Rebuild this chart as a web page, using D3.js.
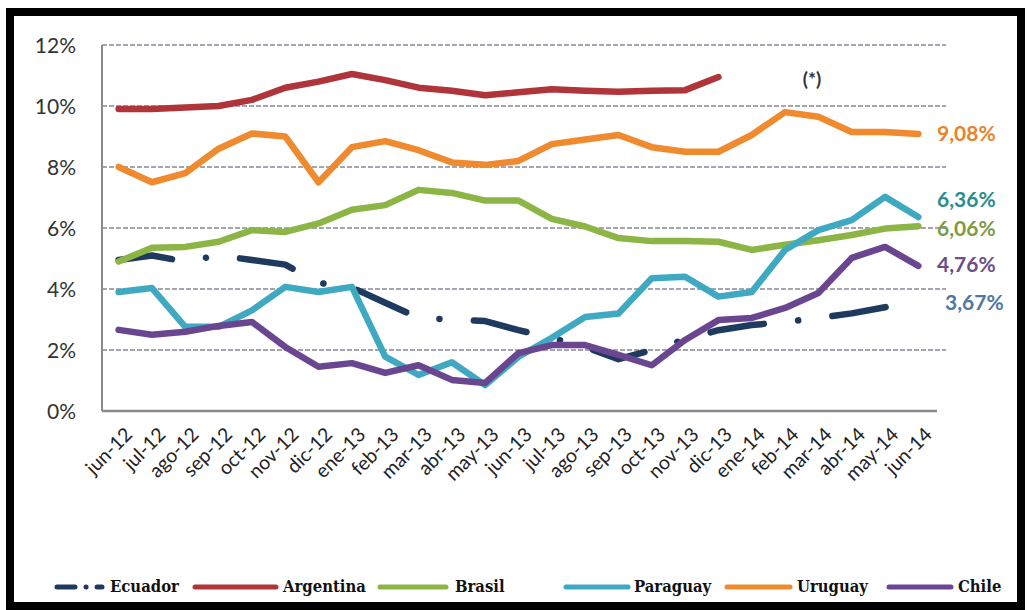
<!DOCTYPE html>
<html>
<head>
<meta charset="utf-8">
<script src="https://cdn.jsdelivr.net/npm/d3@7"></script>
<style>
  html, body { margin: 0; padding: 0; background: #fff; }
  svg { display: block; }
</style>
</head>
<body>
<svg id="chart" width="1027" height="610"></svg>
<script>
// Monthly series, jun-12 .. jun-14 (percent)
const months = ["jun-12","jul-12","ago-12","sep-12","oct-12","nov-12","dic-12","ene-13","feb-13","mar-13","abr-13","may-13","jun-13","jul-13","ago-13","sep-13","oct-13","nov-13","dic-13","ene-14","feb-14","mar-14","abr-14","may-14","jun-14"];
const ecuador   = [4.95,5.1,4.9,5.1,4.95,4.8,4.2,4.05,3.55,3.05,3.0,2.95,2.65,2.4,2.1,1.7,2.0,2.35,2.65,2.82,2.92,3.05,3.2,3.4,3.67];
const argentina = [9.9,9.9,9.95,10.0,10.2,10.6,10.8,11.05,10.85,10.6,10.5,10.35,10.45,10.55,10.5,10.47,10.5,10.52,10.95,null,null,null,null,null,null];
const brasil    = [4.9,5.35,5.38,5.55,5.93,5.87,6.15,6.6,6.75,7.25,7.15,6.9,6.9,6.3,6.05,5.67,5.57,5.57,5.55,5.28,5.45,5.6,5.77,5.98,6.06];
const paraguay  = [3.9,4.03,2.76,2.76,3.3,4.07,3.9,4.07,1.78,1.18,1.6,0.85,1.78,2.4,3.08,3.2,4.35,4.4,3.75,3.9,5.28,5.93,6.26,7.02,6.36];
const uruguay   = [8.0,7.5,7.8,8.6,9.1,9.0,7.5,8.65,8.85,8.55,8.15,8.07,8.2,8.75,8.9,9.05,8.65,8.5,8.5,9.05,9.8,9.65,9.15,9.15,9.08];
const chile     = [2.66,2.5,2.6,2.79,2.92,2.1,1.45,1.57,1.25,1.5,1.02,0.92,1.9,2.16,2.16,1.84,1.5,2.33,2.98,3.05,3.38,3.87,5.02,5.38,4.76];
const yTicks = [0,2,4,6,8,10,12];

const seriesNames = ["Ecuador","Argentina","Brasil","Paraguay","Uruguay","Chile"];
const seriesValues = [ecuador, argentina, brasil, paraguay, uruguay, chile];
const seriesColors = ["#1f3a5f","#b0353a","#8cb545","#3fa9c2","#ef8a2e","#6a4690"];
// end-of-line value labels
const endLabelSeries = ["Uruguay","Paraguay","Brasil","Chile","Ecuador"];
const endLabelColors = ["#e8832c","#2b8c8c","#7f9a45","#6b5088","#4f77a6"];

const svg = d3.select("#chart");
const W = 1027, H = 610;
const plot = { left: 102, right: 935, top: 45, bottom: 411 };

const x = d3.scaleBand().domain(months).range([plot.left, plot.right]);
const xc = m => x(m) + x.bandwidth() / 2;
const y = d3.scaleLinear().domain([0, 12]).range([plot.bottom, plot.top]);

// outer frame
svg.append("rect").attr("x", 10).attr("y", 12).attr("width", W - 16).attr("height", H - 16)
  .attr("fill", "none").attr("stroke", "#000").attr("stroke-width", 8);

// gridlines
svg.append("g").selectAll("line").data(yTicks.filter(t => t > 0)).join("line")
  .attr("x1", plot.left).attr("x2", 946)
  .attr("y1", d => y(d)).attr("y2", d => y(d))
  .attr("stroke", "#a3a6b0").attr("stroke-width", 2).attr("stroke-dasharray", "5,2");

// y axis
const yAxis = d3.axisLeft(y).tickValues(yTicks).tickFormat(d => d + "%").tickSize(0).tickPadding(26);
const gy = svg.append("g").attr("transform", `translate(${plot.left},0)`).call(yAxis);
gy.select(".domain").remove();
gy.selectAll("text").attr("font-family", "Lato, 'Open Sans', sans-serif").attr("font-size", 21)
  .attr("fill", "#333").attr("dy", "0.35em");
svg.append("line").attr("x1", plot.left).attr("x2", plot.left).attr("y1", plot.top).attr("y2", plot.bottom)
  .attr("stroke", "#8a8a8a").attr("stroke-width", 2);

// x axis
const xAxis = d3.axisBottom(x).tickSize(0).tickPadding(0);
const gx = svg.append("g").attr("transform", `translate(0,${plot.bottom})`).call(xAxis);
gx.select(".domain").remove();
gx.selectAll("text")
  .attr("font-family", "Lato, 'Open Sans', sans-serif").attr("font-size", 19.5).attr("fill", "#222")
  .attr("text-anchor", "end").attr("dy", "0.35em")
  .attr("transform", "translate(10,20) rotate(-45)");
svg.append("line").attr("x1", plot.left).attr("x2", 937).attr("y1", plot.bottom).attr("y2", plot.bottom)
  .attr("stroke", "#8a8a8a").attr("stroke-width", 2.5);

// series lines
const line = d3.line()
  .defined(d => d.v != null)
  .x(d => xc(d.m)).y(d => y(d.v));

seriesNames.forEach((name, i) => {
  const pts = months.map((m, j) => ({ m, v: seriesValues[i][j] }));
  const p = svg.append("path").datum(pts)
    .attr("d", line).attr("fill", "none")
    .attr("stroke", seriesColors[i]).attr("stroke-width", 6.5)
    .attr("stroke-linejoin", "round").attr("stroke-linecap", "round");
  if (name === "Ecuador") {
    // long-dash-dot pattern, period fitted so that seven dashes close at the may-14 point
    const probe = svg.append("path").attr("d", line(pts.slice(0, pts.length - 1)));
    const L = probe.node().getTotalLength();
    probe.remove();
    const dash = 54;
    const period = (L - dash) / 6;
    const gap = (period - dash) / 2;
    p.attr("stroke-dasharray", `${dash},${gap},0.1,${gap}`);
  }
});

// note marker
svg.append("text").attr("x", 812).attr("y", 86).attr("text-anchor", "middle")
  .attr("font-family", "Lato, 'Open Sans', sans-serif").attr("font-size", 19).attr("font-weight", "bold")
  .attr("fill", "#333").text("(*)");

// end labels
const labelNudge = { Uruguay: 0, Paraguay: -17, Brasil: 2, Chile: -1, Ecuador: 4 };
const labelX = { Uruguay: 937, Paraguay: 937, Brasil: 937, Chile: 937, Ecuador: 945 };
endLabelSeries.forEach((name, k) => {
  const vals = seriesValues[seriesNames.indexOf(name)];
  const v = vals[vals.length - 1];
  svg.append("text")
    .attr("x", labelX[name]).attr("y", y(v) + labelNudge[name]).attr("dy", "0.35em")
    .attr("font-family", "Lato, 'Open Sans', sans-serif").attr("font-size", 21).attr("font-weight", "bold")
    .attr("fill", endLabelColors[k])
    .text(d3.format(".2f")(v).replace(".", ",") + "%");
});

// legend
const legendItems = [
  { name: "Ecuador",   x0: 57,  x1: 102, tx: 110 },
  { name: "Argentina", x0: 195, x1: 276, tx: 283 },
  { name: "Brasil",    x0: 380, x1: 446, tx: 455 },
  { name: "Paraguay",  x0: 566, x1: 628, tx: 634 },
  { name: "Uruguay",   x0: 727, x1: 790, tx: 797 },
  { name: "Chile",     x0: 889, x1: 951, tx: 958 }
];
const lg = svg.append("g");
legendItems.forEach(it => {
  const c = seriesColors[seriesNames.indexOf(it.name)];
  const ln = lg.append("line").attr("x1", it.x0).attr("x2", it.x1).attr("y1", 587).attr("y2", 587)
    .attr("stroke", c).attr("stroke-width", 5).attr("stroke-linecap", "round");
  if (it.name === "Ecuador") ln.attr("stroke-dasharray", "18,11,0.1,11");
  lg.append("text").attr("x", it.tx).attr("y", 592)
    .attr("font-family", "'DejaVu Serif Condensed', 'DejaVu Serif', serif").attr("font-weight", "bold").attr("font-size", 16.5)
    .attr("fill", "#111").text(it.name);
});
</script>
</body>
</html>
